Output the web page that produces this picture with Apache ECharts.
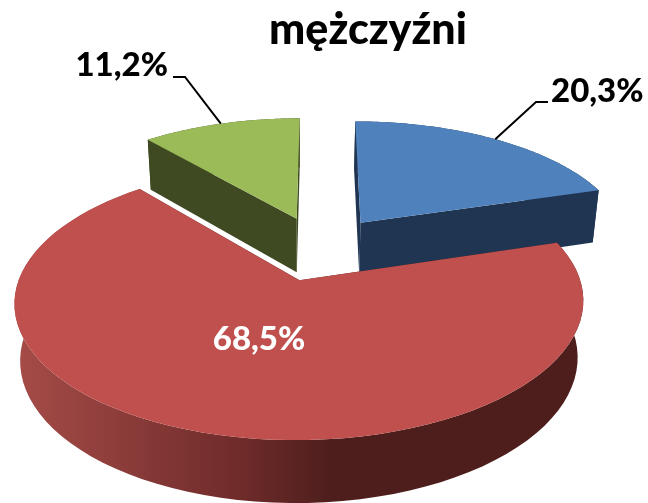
<!DOCTYPE html>
<html>
<head>
<meta charset="utf-8">
<style>html,body{margin:0;padding:0;background:#fff}#main{width:648px;height:503px}</style>
<script src="https://cdn.jsdelivr.net/npm/echarts@6/dist/echarts.min.js"></script>
</head>
<body>
<div id="main"></div>
<script>
var titleText = 'mężczyźni'
var sliceNames = ['niebieski', 'czerwony', 'zielony']
var shares = [20.3, 68.5, 11.2]
var shareLabels = ['20,3%', '68,5%', '11,2%']

// colours and label places, same order as shares
var topColors = ['#4f81bd', '#c0504d', '#9bbb59']
var wallColors = ['#1f3552', '#4d1e1c', '#3f4a22']
var labelPos = [[551, 91, 'left'], [259, 339, 'center'], [168, 65, 'right']]
var leaders = [[[536, 102], [548, 102]], null, [[185, 77], [173, 77]]]
var drawZ = [1, 2, 0] // green at the back, red in front

// fake 3d: perspective projection of a flat disc
var cx = 320, cy = 248, R = 270, kR = 124.2, dist = 6.5, explode = 0.26
function project(u, v) {
    var s = dist / (dist - v)
    return [cx + R * u * s, cy + kR * v * s]
}
function lower(p) {
    return [300 + (p[0] - 300) * 0.98, 1.043 * (p[1] - 140) + 190]
}

var total = shares.reduce(function (a, b) { return a + b }, 0)

function renderSlice(params, api) {
    var i = api.value(0)
    var before = 0
    for (var k = 0; k < i; k++) before += shares[k]
    var a0 = before / total * Math.PI * 2
    var a1 = (before + api.value(1)) / total * Math.PI * 2
    var mid = (a0 + a1) / 2
    var ou = explode * Math.sin(mid), ov = -explode * Math.cos(mid)
    var apex = project(ou, ov)
    var arc = []
    var steps = 80
    for (var n = 0; n <= steps; n++) {
        var a = a0 + (a1 - a0) * n / steps
        arc.push(project(ou + Math.sin(a), ov - Math.cos(a)))
    }
    var arcLow = arc.map(lower).reverse()
    var wall = wallColors[i]
    var arcFill = i === 1 ? {
        type: 'linear', x: 14, y: 0, x2: 584, y2: 0, global: true,
        colorStops: [
            { offset: 0, color: '#a64c48' },
            { offset: 0.4, color: '#6e2b2a' },
            { offset: 0.56, color: '#4d1e1c' },
            { offset: 1, color: '#4d1e1c' }
        ]
    } : wall
    var z = drawZ[i] * 10
    var first = arc[0], last = arc[arc.length - 1]
    var children = [
        { type: 'polygon', z2: z, shape: { points: [apex, first, lower(first), lower(apex)] }, style: { fill: wall } },
        { type: 'polygon', z2: z, shape: { points: [apex, last, lower(last), lower(apex)] }, style: { fill: wall } },
        { type: 'polygon', z2: z + 1, shape: { points: arc.concat(arcLow) }, style: { fill: arcFill } },
        { type: 'polygon', z2: z + 2, shape: { points: [apex].concat(arc) }, style: { fill: topColors[i] } }
    ]
    if (leaders[i]) {
        var touch = arc[Math.round(steps / 2)]
        children.push({
            type: 'polyline', z2: 50,
            shape: { points: [touch].concat(leaders[i]) },
            style: { fill: 'none', stroke: '#000', lineWidth: 2 }
        })
    }
    var lp = labelPos[i]
    children.push({
        type: 'text', z2: 60,
        style: {
            text: shareLabels[i], x: lp[0], y: lp[1], align: lp[2], verticalAlign: 'middle',
            font: '900 33px Lato', fill: i === 1 ? '#fff' : '#000'
        }
    })
    return { type: 'group', children: children }
}

var chart = echarts.init(document.getElementById('main'), null, { renderer: 'canvas' })
chart.setOption({
    animation: false,
    backgroundColor: '#fff',
    title: {
        text: titleText, left: 363, top: 4, textAlign: 'center',
        textStyle: { fontFamily: 'Lato', fontWeight: 900, fontSize: 43, color: '#000' }
    },
    series: [{
        type: 'custom',
        coordinateSystem: 'none',
        renderItem: renderSlice,
        data: shares.map(function (v, i) { return { name: sliceNames[i], value: [i, v] } })
    }]
})
</script>
</body>
</html>
